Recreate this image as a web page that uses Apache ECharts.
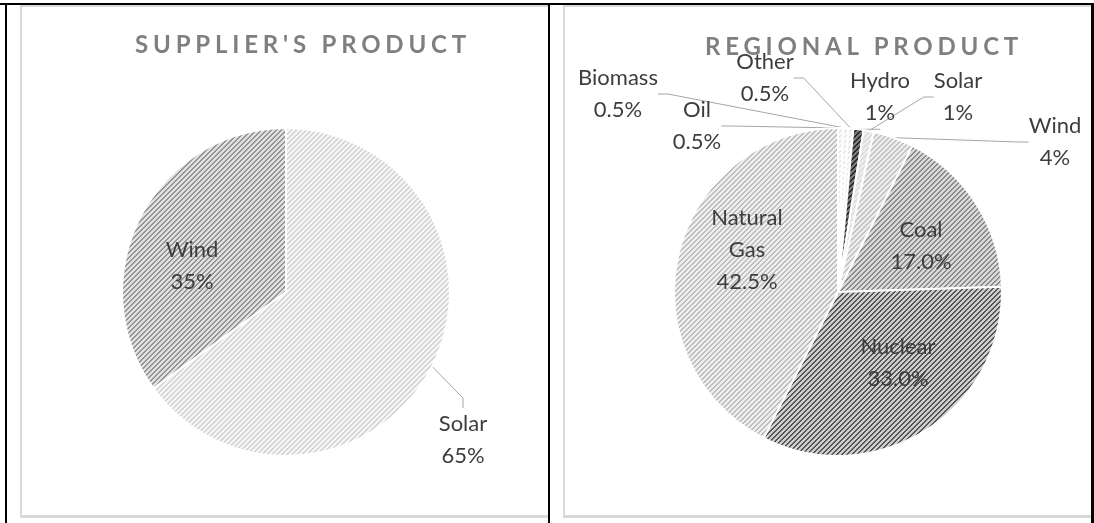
<!DOCTYPE html>
<html>
<head>
<meta charset="utf-8">
<script src="https://cdn.jsdelivr.net/npm/echarts@6/dist/echarts.min.js"></script>
<style>
  html, body { margin: 0; padding: 0; background: #fff; }
  #wrap { position: relative; width: 1094px; height: 523px; overflow: hidden; }
  #chart { position: absolute; left: 0; top: 0; width: 1094px; height: 523px; }
  .blk { position: absolute; background: #000; }
  .frame { position: absolute; border-left: 2px solid #d9d9d9; border-top: 2px solid #d9d9d9; border-bottom: 3px solid #d9d9d9; box-sizing: border-box; }
  .ttl { position: absolute; font-family: Lato, "Open Sans", sans-serif; font-weight: bold; font-size: 24px; letter-spacing: 4.8px; color: #7f7f7f; white-space: nowrap; transform: translateX(-50%); line-height: 1; }
</style>
</head>
<body>
<div id="wrap">
  <div class="frame" style="left:20px;top:5px;width:528px;height:513px;"></div>
  <div class="frame" style="left:563px;top:5px;width:528px;height:513px;"></div>
  <div id="chart"></div>
  <div class="blk" style="left:0;top:3px;width:1094px;height:2px;"></div>
  <div class="blk" style="left:5px;top:3px;width:2px;height:520px;"></div>
  <div class="blk" style="left:548px;top:3px;width:2px;height:520px;"></div>
  <div class="blk" style="left:1091px;top:3px;width:3px;height:520px;"></div>
  <div class="ttl" id="t1" style="left:303px;top:32px;"></div>
  <div class="ttl" id="t2" style="left:864px;top:34px;"></div>
</div>
<script>
// ---- data ----
const titles = ["SUPPLIER'S PRODUCT", "REGIONAL PRODUCT"];
const supplierCategories = ['Solar', 'Wind'];
const supplierValues = [65, 35];
const supplierPctLabels = ['65%', '35%'];
const regionalCategories = ['Oil', 'Biomass', 'Other', 'Hydro', 'Solar', 'Wind', 'Coal', 'Nuclear', 'Natural Gas'];
const regionalValues = [0.5, 0.5, 0.5, 1, 1, 4, 17, 33, 42.5];
const regionalPctLabels = ['0.5%', '0.5%', '0.5%', '1%', '1%', '4%', '17.0%', '33.0%', '42.5%'];

// ---- styling / layout (not data) ----
document.getElementById('t1').textContent = titles[0];
document.getElementById('t2').textContent = titles[1];

function hex(c) { return [parseInt(c.substr(1,2),16), parseInt(c.substr(3,2),16), parseInt(c.substr(5,2),16)]; }
function makePattern(bg, fg, period, w) {
  const c = document.createElement('canvas');
  c.width = period; c.height = period;
  const ctx = c.getContext('2d');
  const img = ctx.createImageData(period, period);
  const b = hex(bg), f = hex(fg);
  for (let y = 0; y < period; y++) for (let x = 0; x < period; x++) {
    const on = ((x + y) % period) < w;
    const col = on ? f : b;
    const i = (y * period + x) * 4;
    img.data[i] = col[0]; img.data[i+1] = col[1]; img.data[i+2] = col[2]; img.data[i+3] = 255;
  }
  ctx.putImageData(img, 0, 0);
  return { image: c, repeat: 'repeat' };
}

const supplierFills = [
  makePattern('#f5f5f5', '#d3d3d3', 5, 2),
  makePattern('#e0e0e0', '#939393', 5, 2)
];
const regionalFills = [
  makePattern('#fbfbfb', '#e6e6e6', 5, 2),
  makePattern('#fbfbfb', '#e6e6e6', 5, 2),
  makePattern('#fbfbfb', '#e6e6e6', 5, 2),
  makePattern('#7a7a7a', '#262626', 5, 2),
  makePattern('#eeeeee', '#dcdcdc', 5, 2),
  makePattern('#ececec', '#c2c2c2', 5, 2),
  makePattern('#d9d9d9', '#8a8a8a', 5, 2),
  makePattern('#cdcdcd', '#555555', 5, 2),
  makePattern('#eeeeee', '#bdbdbd', 5, 2)
];
const supplierInside = [false, true];
const regionalInside = [false, false, false, false, false, false, true, true, true];
const supplierLabelPos = [[463, 440], [192, 266]];
const regionalLabelPos = [[697, 126], [618, 94], [765, 78], [880, 97], [958, 97], [1055, 142], [921, 246], [898, 363], [747, 250]];

const labelFont = { fontFamily: 'Lato, "Open Sans", sans-serif', fontSize: 22, lineHeight: 32, color: '#3d3d3d' };

function buildData(cats, vals, fills, inside, pct) {
  return cats.map((c, i) => ({
    name: c,
    value: vals[i],
    itemStyle: { color: fills[i] },
    label: Object.assign({
      show: true,
      position: inside[i] ? 'inside' : 'outside',
      formatter: c.replace(' ', '\n') + '\n' + pct[i],
      align: 'center'
    }, labelFont),
    labelLine: { show: !inside[i] }
  }));
}

const chart = echarts.init(document.getElementById('chart'), null, { renderer: 'canvas' });
function pieSeries(center, data, posArr) {
  return {
    type: 'pie',
    center: center,
    radius: [0, 164],
    startAngle: 90,
    clockwise: true,
    avoidLabelOverlap: false,
    animation: false,
    silent: true,
    itemStyle: { borderColor: '#ffffff', borderWidth: 2 },
    labelLine: { lineStyle: { color: '#a6a6a6', width: 1 }, length: 10, length2: 10 },
    labelLayout: function (p) {
      const pos = posArr[p.dataIndex];
      return { x: pos[0], y: pos[1], align: 'center', verticalAlign: 'middle' };
    },
    data: data
  };
}
chart.setOption({
  animation: false,
  backgroundColor: 'transparent',
  series: [
    pieSeries([286, 292], buildData(supplierCategories, supplierValues, supplierFills, supplierInside, supplierPctLabels), supplierLabelPos),
    pieSeries([838, 292], buildData(regionalCategories, regionalValues, regionalFills, regionalInside, regionalPctLabels), regionalLabelPos)
  ]
});
</script>
</body>
</html>
